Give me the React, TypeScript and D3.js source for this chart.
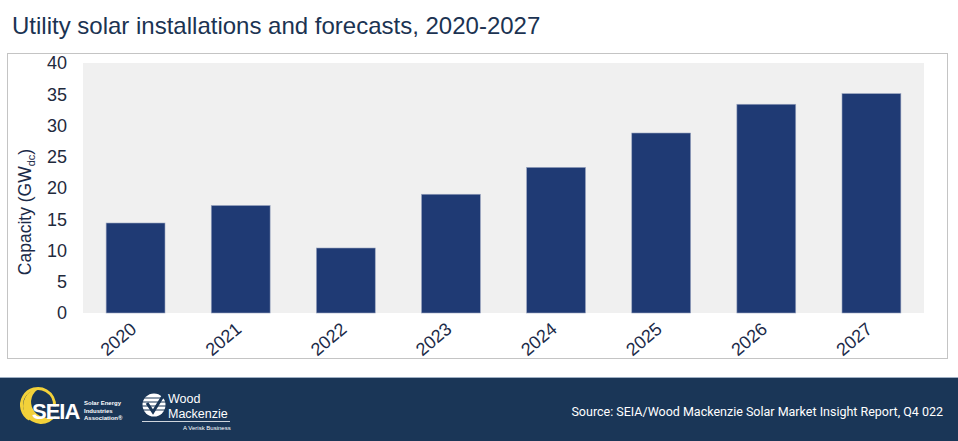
import * as d3 from "d3";

const years = ["2020", "2021", "2022", "2023", "2024", "2025", "2026", "2027"];
const capacity = [14.4, 17.2, 10.4, 19.0, 23.3, 28.8, 33.4, 35.1];
const yTicks = [0, 5, 10, 15, 20, 25, 30, 35, 40];

const W = 958;
const H = 441;
const plot = { left: 83, right: 924, top: 63, bottom: 313 };

function App() {
  const x = d3
    .scaleBand()
    .domain(years)
    .range([plot.left, plot.right])
    .paddingInner(0.44)
    .paddingOuter(0.22);
  const y = d3.scaleLinear().domain([0, 40]).range([plot.bottom, plot.top]);
  const font = "Arial, 'Liberation Sans', sans-serif";

  return (
    <svg
      width={W}
      height={H}
      style={{ position: "absolute", left: 0, top: 0, display: "block" }}
      fontFamily={font}
    >
      <rect width={W} height={H} fill="#ffffff" />
      <text x={12} y={34} fontSize={24} fill="#1b3352">
        Utility solar installations and forecasts, 2020-2027
      </text>

      {/* chart frame */}
      <rect x={7.5} y={53.5} width={940} height={305} fill="none" stroke="#c4c4c4" strokeWidth={1} />
      <rect
        x={plot.left}
        y={plot.top}
        width={plot.right - plot.left}
        height={plot.bottom - plot.top}
        fill="#f0f0f0"
      />

      {yTicks.map((t) => (
        <text key={t} x={67} y={y(t)} dy="0.36em" textAnchor="end" fontSize={18} fill="#1f2a3d">
          {t}
        </text>
      ))}

      <text
        transform={`translate(31, 212) rotate(-90)`}
        textAnchor="middle"
        fontSize={17.5}
        fill="#1b2a48"
      >
        Capacity (GW
        <tspan fontSize={11} dy={4}>dc</tspan>
        <tspan dy={-4}>)</tspan>
      </text>

      {years.map((yr, i) => (
        <rect
          key={yr}
          x={x(yr)}
          y={y(capacity[i])}
          width={x.bandwidth()}
          height={y(0) - y(capacity[i])}
          fill="#1f3a74"
          stroke="#9aa5c0"
          strokeWidth={0.6}
        />
      ))}

      {years.map((yr) => (
        <text
          key={yr}
          transform={`translate(${(x(yr) as number) + x.bandwidth() / 2 + 2}, 331) rotate(-40)`}
          textAnchor="end"
          fontSize={18}
          fill="#1b2a48"
        >
          {yr}
        </text>
      ))}

      {/* footer */}
      <rect x={0} y={377} width={W} height={H - 377} fill="#9fb0c4" />
      <rect x={0} y={378} width={W} height={H - 378} fill="#1a3657" />

      {/* SEIA logo */}
      <g>
        <path
          d="M 40 388 A 18 18 0 1 0 56 416 A 16 15 0 1 1 40 388 Z"
          fill="#f2d13a"
        />
        <circle cx={38} cy={405} r={16.5} fill="none" stroke="#f2d13a" strokeWidth={3} strokeDasharray="70 40" transform="rotate(120 38 405)" />
        <text x={32} y={419} fontSize={22} fontWeight="bold" fill="#ffffff" letterSpacing={-1}>
          SEIA
        </text>
        <text x={84} y={405} fontSize={6} fill="#ffffff" fontWeight="bold">Solar Energy</text>
        <text x={84} y={412.5} fontSize={6} fill="#ffffff" fontWeight="bold">Industries</text>
        <text x={84} y={420} fontSize={6} fill="#ffffff" fontWeight="bold">Association®</text>
      </g>

      {/* Wood Mackenzie logo */}
      <g>
        <circle cx={154} cy={405} r={11.5} fill="#ffffff" />
        {[398, 402, 406, 410].map((ly) => (
          <line key={ly} x1={142} x2={166} y1={ly} y2={ly} stroke="#1a3657" strokeWidth={1} />
        ))}
        <path d="M 147 403 L 153 412 L 163 396" fill="none" stroke="#1a3657" strokeWidth={3} />
        <text x={168} y={403} fontSize={12.5} fill="#ffffff">Wood</text>
        <text x={168} y={418} fontSize={12.5} fill="#ffffff">Mackenzie</text>
        <line x1={142} x2={230} y1={421.5} y2={421.5} stroke="#ffffff" strokeWidth={0.8} />
        <text x={183} y={430} fontSize={6} fill="#ffffff">A Verisk Business</text>
      </g>

      <text
        x={943}
        y={416}
        textAnchor="end"
        fontSize={12.5}
        fill="#ffffff"
        fontFamily="Roboto, Arial, sans-serif"
      >
        Source: SEIA/Wood Mackenzie Solar Market Insight Report, Q4 022
      </text>
    </svg>
  );
}

export default App;
